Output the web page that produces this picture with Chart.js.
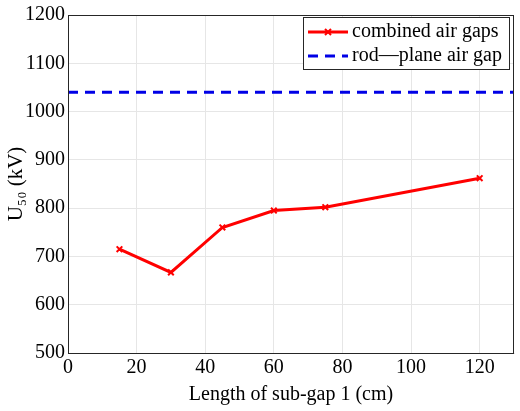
<!DOCTYPE html>
<html><head><meta charset="utf-8">
<script src="https://cdn.jsdelivr.net/npm/chart.js@4"></script>
<style>body{margin:0;background:#fff}#w{width:520px;height:411px}</style>
</head><body><div id="w"><canvas id="c"></canvas></div>
<script>
const gapLen = [15, 30, 45, 60, 75, 120];
const combinedU50 = [715, 667, 760, 795, 802, 862];
const rodPlaneU50 = 1040;
const xRange = [0, 130];
const xTicks = [0, 20, 40, 60, 80, 100, 120];

const F = 'Liberation Serif';
const frame = {
  id: 'frame',
  afterDraw(chart) {
    const a = chart.chartArea, c = chart.ctx;
    c.save(); c.strokeStyle = '#262626'; c.lineWidth = 1;
    c.strokeRect(a.left + 0.5, a.top + 0.5, a.right - a.left - 1, a.bottom - a.top);
    const x0 = 303, y0 = 17, w = 206, h = 52;
    c.fillStyle = '#fff'; c.fillRect(x0, y0, w, h); c.strokeRect(x0 + 0.5, y0 + 0.5, w, h);
    c.lineWidth = 3; c.strokeStyle = '#ff0000';
    c.beginPath(); c.moveTo(308, 32); c.lineTo(348, 32); c.stroke();
    c.lineWidth = 2;
    c.beginPath(); c.moveTo(325, 29); c.lineTo(331, 35); c.moveTo(331, 29); c.lineTo(325, 35); c.stroke();
    c.strokeStyle = '#0000e6'; c.lineWidth = 3; c.setLineDash([10, 7]);
    c.beginPath(); c.moveTo(308, 56); c.lineTo(348, 56); c.stroke(); c.setLineDash([]);
    c.fillStyle = '#000'; c.font = '20px ' + F; c.textBaseline = 'middle';
    c.fillText('combined air gaps', 352, 32);
    c.fillText('rod\u2014plane air gap', 352, 56);
    c.restore();
  }
};

new Chart(document.getElementById('c'), {
  type: 'line',
  data: {
    datasets: [{
      data: gapLen.map((x, i) => ({x, y: combinedU50[i]})),
      borderColor: '#ff0000', borderWidth: 3, pointStyle: 'crossRot', pointRadius: 4,
      pointBorderWidth: 2, pointBorderColor: '#ff0000', tension: 0
    }, {
      data: xRange.map(x => ({x, y: rodPlaneU50})),
      borderColor: '#0000e6', borderWidth: 3, borderDash: [10, 7], pointRadius: 0
    }]
  },
  options: {
    responsive: true, maintainAspectRatio: false, animation: false,
    layout: {padding: {top: 6, right: 1, bottom: 0, left: 0}},
    plugins: {legend: {display: false}, tooltip: {enabled: false}},
    scales: {
      x: {type: 'linear', min: 0, max: 130,
        afterBuildTicks: s => { s.ticks = xTicks.map(v => ({value: v})); },
        ticks: {color: '#000', font: {family: F, size: 20}, maxRotation: 0, callback: v => String(v)},
        grid: {color: '#e6e6e6', drawTicks: false},
        title: {display: true, text: 'Length of sub-gap 1 (cm)', color: '#000', font: {family: F, size: 20}, padding: {top: 0}}},
      y: {min: 500, max: 1200,
        afterFit: s => { s.width = 68; },
        ticks: {stepSize: 100, color: '#000', font: {family: F, size: 20}, callback: v => String(v)},
        grid: {color: '#e6e6e6', drawTicks: false},
        title: {display: true, text: 'U\u2085\u2080 (kV)', color: '#000', font: {family: F, size: 21}, padding: {bottom: 0}}}
    }
  },
  plugins: [frame]
});
</script></body></html>
